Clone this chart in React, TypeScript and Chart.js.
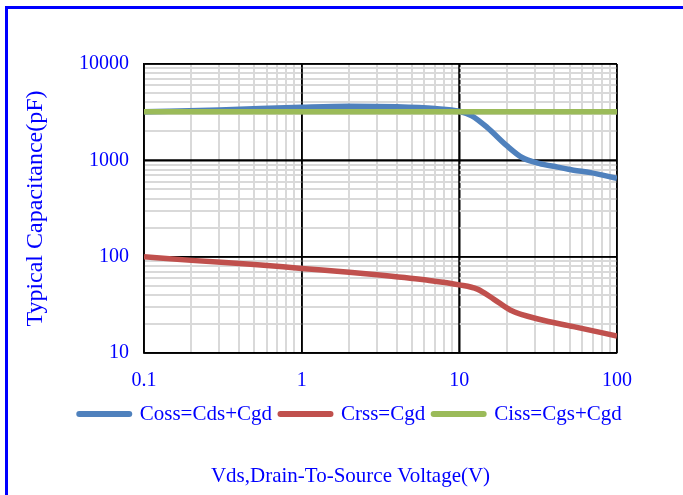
import React, { useEffect, useRef } from "react";
import { Chart, registerables } from "chart.js";

Chart.register(...registerables);

// ---- data ----
const seriesNames = ["Coss=Cds+Cgd", "Crss=Cgd", "Ciss=Cgs+Cgd"];
const seriesColors = ["#4F81BD", "#C0504D", "#9BBB59"];

const cossV = [0.1, 0.3, 1, 2, 4, 7, 10, 12, 15, 20, 25, 32, 42, 53, 68, 100];
const cossPF = [3200, 3330, 3560, 3650, 3600, 3450, 3230, 2900, 2200, 1420, 1070, 930, 850, 790, 745, 650];

const crssV = [0.1, 0.2, 0.5, 1, 2, 3, 6, 10, 13, 16.5, 21, 32, 53, 100];
const crssPF = [100, 91.5, 83, 75.5, 69, 65, 57.5, 51, 46, 36.3, 28, 22.4, 18.8, 15];

const cissV = [0.1, 1, 10, 100];
const cissPF = [3200, 3200, 3200, 3200];

const xMajorTicks = [0.1, 1, 10, 100];
const yMajorTicks = [10, 100, 1000, 10000];
const minorMultipliers = [2, 3, 4, 5, 6, 7, 8, 9];

const xTitle = "Vds,Drain-To-Source Voltage(V)";
const yTitle = "Typical Capacitance(pF)";

const FONT = "'Liberation Serif', 'Times New Roman', serif";
const TEXT_BLUE = "#0000ff";

function allTicks(majors: number[]): number[] {
  const out: number[] = [];
  majors.forEach((m, i) => {
    out.push(m);
    if (i < majors.length - 1) minorMultipliers.forEach((k) => out.push(+(m * k).toPrecision(6)));
  });
  return out;
}

function isMajor(v: number): boolean {
  const l = Math.log10(v);
  return Math.abs(l - Math.round(l)) < 1e-6;
}

function pairs(xs: number[], ys: number[]) {
  return xs.map((x, i) => ({ x, y: ys[i] }));
}

const framePlugin = {
  id: "frame",
  beforeDraw(chart: any) {
    const ctx = chart.ctx;
    ctx.save();
    ctx.strokeStyle = "#0000ff";
    ctx.lineWidth = 3;
    ctx.strokeRect(6.5, 7.5, 900, 900);
    ctx.restore();
  },
  beforeDatasetsDraw(chart: any) {
    const { ctx, chartArea } = chart;
    const xs = chart.scales.x;
    const ys = chart.scales.y;
    ctx.save();
    ctx.strokeStyle = "#000";
    ctx.lineWidth = 1.5;
    ctx.beginPath();
    xMajorTicks.forEach((v) => {
      const p = Math.round(xs.getPixelForValue(v));
      ctx.moveTo(p, chartArea.top);
      ctx.lineTo(p, chartArea.bottom);
    });
    yMajorTicks.forEach((v) => {
      const p = Math.round(ys.getPixelForValue(v));
      ctx.moveTo(chartArea.left, p);
      ctx.lineTo(chartArea.right, p);
    });
    ctx.stroke();
    ctx.restore();
  },
};

export default function App() {
  const ref = useRef<HTMLCanvasElement | null>(null);

  useEffect(() => {
    if (!ref.current) return;
    const gridColor = (c: any) => (c.tick && isMajor(c.tick.value) ? "#000000" : "#d9d9d9");
    const gridWidth = (c: any) => (c.tick && isMajor(c.tick.value) ? 1.5 : 2);

    const chart = new Chart(ref.current, {
      type: "line",
      data: {
        datasets: [
          { label: seriesNames[0], data: pairs(cossV, cossPF), borderColor: seriesColors[0], backgroundColor: seriesColors[0], order: 1 },
          { label: seriesNames[1], data: pairs(crssV, crssPF), borderColor: seriesColors[1], backgroundColor: seriesColors[1], order: 2 },
          { label: seriesNames[2], data: pairs(cissV, cissPF), borderColor: seriesColors[2], backgroundColor: seriesColors[2], order: 0 },
        ] as any,
      },
      options: {
        responsive: false,
        animation: false,
        events: [],
        layout: { padding: { top: 64, left: 58, right: 40, bottom: 0 } },
        elements: {
          point: { radius: 0 },
          line: { borderWidth: 5.5, cubicInterpolationMode: "monotone", borderCapStyle: "butt", fill: false },
        },
        datasets: { line: { clip: 0 } } as any,
        scales: {
          x: {
            type: "logarithmic",
            position: "bottom",
            min: 0.1,
            max: 100,
            afterBuildTicks: (s: any) => {
              s.ticks = allTicks(xMajorTicks).map((v) => ({ value: v, major: isMajor(v) }));
            },
            afterFit: (s: any) => {
              s.height = 42;
            },
            ticks: {
              autoSkip: false,
              maxRotation: 0,
              minRotation: 0,
              padding: 16,
              color: TEXT_BLUE,
              font: { family: FONT, size: 20 },
              callback: (v: any) => (xMajorTicks.some((m) => Math.abs(m - v) < 1e-9) ? String(v) : ""),
            },
            grid: { color: gridColor, lineWidth: gridWidth, drawTicks: false },
            border: { display: true, color: "#000", width: 1.5 },
          },
          y: {
            type: "logarithmic",
            position: "left",
            min: 10,
            max: 10000,
            afterBuildTicks: (s: any) => {
              s.ticks = allTicks(yMajorTicks).map((v) => ({ value: v, major: isMajor(v) }));
            },
            afterFit: (s: any) => {
              s.width = 86;
            },
            ticks: {
              autoSkip: false,
              padding: 15,
              color: TEXT_BLUE,
              font: { family: FONT, size: 20 },
              callback: (v: any) => (yMajorTicks.some((m) => Math.abs(m - v) < 1e-9) ? String(v) : ""),
            },
            grid: { color: gridColor, lineWidth: gridWidth, drawTicks: false },
            border: { display: true, color: "#000", width: 1.5 },
            title: {
              display: true,
              text: yTitle,
              color: TEXT_BLUE,
              font: { family: FONT, size: 24 },
              padding: { top: -36.4, bottom: 0 },
            },
          },
          y2: {
            type: "linear",
            position: "right",
            display: true,
            grid: { display: false, drawTicks: false },
            ticks: { display: false },
            border: { display: false },
            afterFit: (s: any) => {
              s.width = 26;
            },
          },
        } as any,
        plugins: {
          legend: {
            position: "bottom",
            align: "center",
            labels: {
              usePointStyle: true,
              pointStyleWidth: 50,
              padding: 8.5,
              color: TEXT_BLUE,
              font: { family: FONT, size: 21 },
              generateLabels: (ch: any) =>
                ch.data.datasets.map((ds: any, i: number) => ({
                  text: ds.label,
                  fillStyle: ds.borderColor,
                  strokeStyle: ds.borderColor,
                  lineWidth: 6,
                  lineCap: "round",
                  pointStyle: "line",
                  hidden: false,
                  datasetIndex: i,
                  fontColor: TEXT_BLUE,
                })),
            },
          },
          title: {
            display: true,
            position: "bottom",
            text: xTitle,
            color: TEXT_BLUE,
            font: { family: FONT, size: 21, weight: "normal" },
            padding: { top: 28.9, bottom: 6.4 },
          },
          tooltip: { enabled: false },
        } as any,
      },
      plugins: [framePlugin],
    });
    return () => chart.destroy();
  }, []);

  return (
    <canvas
      ref={ref}
      width={683}
      height={495}
      style={{ position: "fixed", left: 0, top: 0, display: "block", background: "#fff" }}
    />
  );
}
